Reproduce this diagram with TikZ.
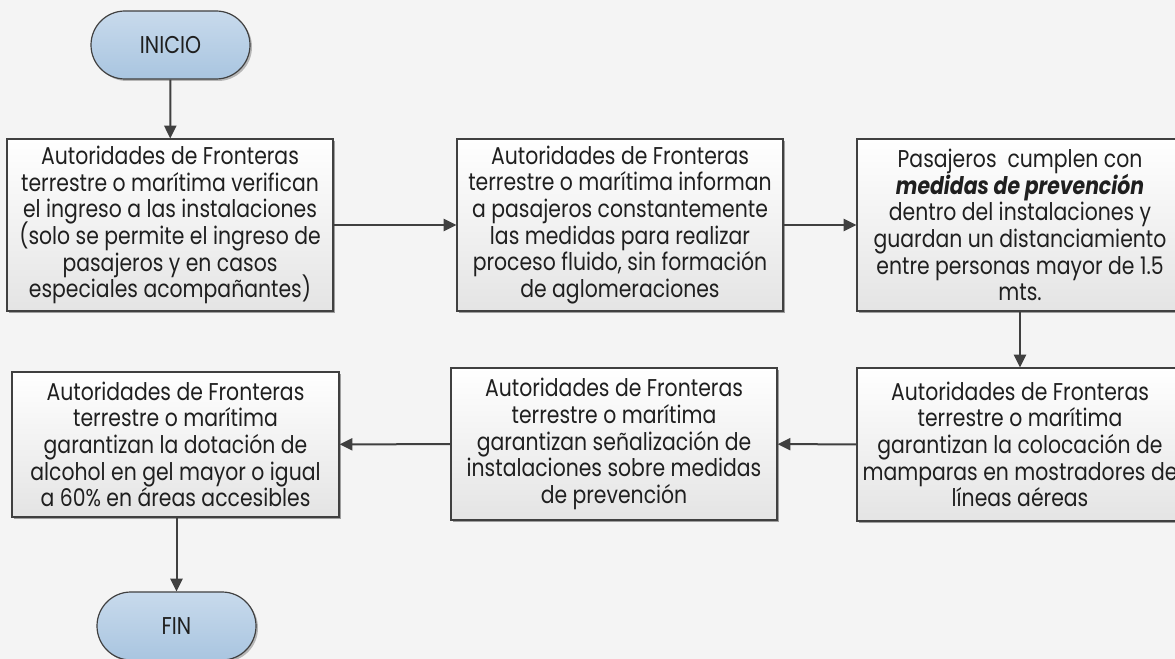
\documentclass[tikz,border=0pt]{standalone}
\usepackage{fontspec}
\setmainfont{Poppins}[FakeStretch=0.84]
\usetikzlibrary{shadows,arrows.meta}
\definecolor{bgc}{HTML}{F4F4F4}
\definecolor{linec}{HTML}{404040}
\definecolor{termtop}{HTML}{C8DAEC}
\definecolor{termbot}{HTML}{A9C5E0}
\definecolor{boxbot}{HTML}{E4E4E4}
\newcommand\myboxfont{\fontsize{18.2pt}{20pt}\selectfont\setlength{\lineskiplimit}{-20pt}\relax}
\tikzset{
  procbox/.style={draw=linec, line width=0.9pt, top color=white, bottom color=boxbot,
    minimum width=244.5pt, align=center, inner sep=2pt,
    font=\myboxfont, text=black!88,
    drop shadow={shadow xshift=1.8pt, shadow yshift=-1.8pt, fill=black, opacity=0.35}},
  termbox/.style={draw=linec, line width=0.9pt, top color=termtop, bottom color=termbot,
    minimum width=119.25pt, minimum height=51pt, rounded corners=25.5pt,
    font=\fontsize{18.2pt}{20pt}\selectfont, text=black!88,
    drop shadow={shadow xshift=1.5pt, shadow yshift=-1.5pt, fill=black, opacity=0.25}},
  flowarrow/.style={draw=linec, line width=1.5pt, -{Triangle[length=9.5pt,width=9pt]}}
}
\begin{document}
\begin{tikzpicture}[x=0.75pt,y=-0.75pt]
\fill[bgc] (0,0) rectangle (1175,659);
\useasboundingbox (0,0) rectangle (1175,659);

\node[termbox] (ini) at (170.5,45) {INICIO};
\node[procbox, minimum height=129pt] (b1) at (170,225) {Autoridades de Fronteras\\terrestre o marítima verifican\\el ingreso a las instalaciones\\(solo se permite el ingreso de\\pasajeros y en casos\\especiales acompañantes)};
\node[procbox, minimum height=129pt] (b2) at (620,225) {Autoridades de Fronteras\\terrestre o marítima informan\\a pasajeros constantemente\\las medidas para realizar\\proceso fluido, sin formación\\de aglomeraciones};
\node[procbox, minimum height=129pt] (b3) at (1020,225) {Pasajeros\ \ cumplen con\\\textbf{\textit{medidas de prevención}}\\dentro del instalaciones y\\guardan un distanciamiento\\entre personas mayor de 1.5\\mts.};
\node[procbox, minimum height=114.75pt] (b4) at (1020,444.5) {Autoridades de Fronteras\\terrestre o marítima\\garantizan la colocación de\\mamparas en mostradores de\\líneas aéreas};
\node[procbox, minimum height=114pt] (b5) at (614,444) {Autoridades de Fronteras\\terrestre o marítima\\garantizan señalización de\\instalaciones sobre medidas\\de prevención};
\node[procbox, minimum height=108.75pt, minimum width=245.25pt] (b6) at (175.5,444.5) {Autoridades de Fronteras\\terrestre o marítima\\garantizan la dotación de\\alcohol en gel mayor o igual\\a 60\% en áreas accesibles};
\node[termbox] (fin) at (176.5,626) {FIN};

\draw[flowarrow] (ini) -- (b1);
\draw[flowarrow] (b1) -- (b2);
\draw[flowarrow] (b2) -- (b3);
\draw[flowarrow] (b3) -- (b4);
\draw[flowarrow] (b4) -- (b5);
\draw[flowarrow] (b5) -- (b6);
\draw[flowarrow] (b6.south -| fin) -- (fin);
\end{tikzpicture}
\end{document}
